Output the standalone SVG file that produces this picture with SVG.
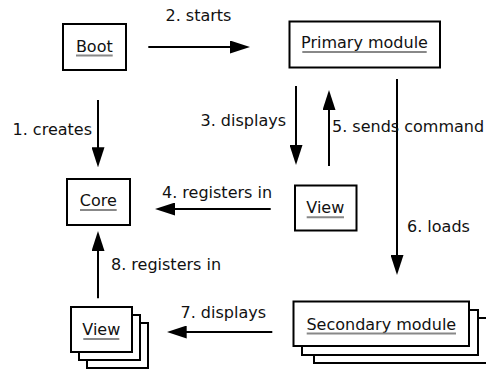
<svg xmlns="http://www.w3.org/2000/svg" width="486" height="372" viewBox="0 0 486 372">
  <style>
    text { font-family: "DejaVu Sans", "Liberation Sans", sans-serif; font-size: 16px; fill: #111; }
    .node rect { fill: #fff; stroke: #000; stroke-width: 2; }
    .node text { text-anchor: middle; }
    .ul { stroke: #888; stroke-width: 2; }
    .edge { stroke: #000; stroke-width: 2; fill: none; marker-end: url(#head); }
  </style>
  <defs>
    <marker id="head" markerUnits="userSpaceOnUse" markerWidth="20" markerHeight="13" refX="3" refY="6.5" orient="auto">
      <path d="M0,0 L20,6.5 L0,13 Z" fill="#000"/>
    </marker>
  </defs>
  <rect width="486" height="372" fill="#fff"/>

  <!-- nodes -->
  <g id="boot" class="node">
    <rect x="63" y="24" width="63" height="46"/>
    <text x="94.3" y="51.5">Boot</text>
    <line class="ul" x1="76" y1="55.5" x2="112.7" y2="55.5"/>
  </g>
  <g id="primary" class="node">
    <rect x="289.5" y="21.5" width="150.5" height="46"/>
    <text x="364.5" y="48.3">Primary module</text>
    <line class="ul" x1="302.3" y1="52" x2="426.7" y2="52"/>
  </g>
  <g id="core" class="node">
    <rect x="67" y="179" width="63" height="46"/>
    <text x="98.3" y="206">Core</text>
    <line class="ul" x1="80" y1="210" x2="116.7" y2="210"/>
  </g>
  <g id="view" class="node">
    <rect x="295" y="185.5" width="61.5" height="45"/>
    <text x="325.3" y="213.3">View</text>
    <line class="ul" x1="306.7" y1="217.3" x2="344" y2="217.3"/>
  </g>
  <g id="views" class="node">
    <rect x="87" y="323" width="61" height="45"/>
    <rect x="79" y="315" width="61" height="45"/>
    <rect x="71" y="307" width="61" height="45"/>
    <text x="101.3" y="335">View</text>
    <line class="ul" x1="83.3" y1="339" x2="119.3" y2="339"/>
  </g>
  <g id="secondary" class="node">
    <rect x="314" y="318" width="180" height="45"/>
    <rect x="302" y="310" width="176" height="45"/>
    <rect x="293.5" y="301.5" width="175.5" height="44.5"/>
    <text x="381.3" y="329.5">Secondary module</text>
    <line class="ul" x1="306.7" y1="333.5" x2="456" y2="333.5"/>
  </g>

  <!-- connectors -->
  <g id="connectors">
    <line class="edge" x1="98" y1="100" x2="98" y2="150.3"/>
    <line class="edge" x1="148.3" y1="47" x2="233" y2="47"/>
    <line class="edge" x1="296" y1="86" x2="296" y2="148"/>
    <line class="edge" x1="329" y1="166" x2="329" y2="107"/>
    <line class="edge" x1="397" y1="79" x2="397" y2="258"/>
    <line class="edge" x1="270.7" y1="209" x2="172" y2="209"/>
    <line class="edge" x1="272.3" y1="332" x2="183.7" y2="332"/>
    <line class="edge" x1="98" y1="298.3" x2="98" y2="248"/>
  </g>

  <!-- connector labels -->
  <g id="labels">
    <text x="12.5" y="135">1. creates</text>
    <text x="165.5" y="21">2. starts</text>
    <text x="286" y="126" text-anchor="end">3. displays</text>
    <text x="162" y="198">4. registers in</text>
    <text x="332" y="132">5. sends command</text>
    <text x="407" y="231.7">6. loads</text>
    <text x="180.5" y="317.5">7. displays</text>
    <text x="111" y="270">8. registers in</text>
  </g>
</svg>
